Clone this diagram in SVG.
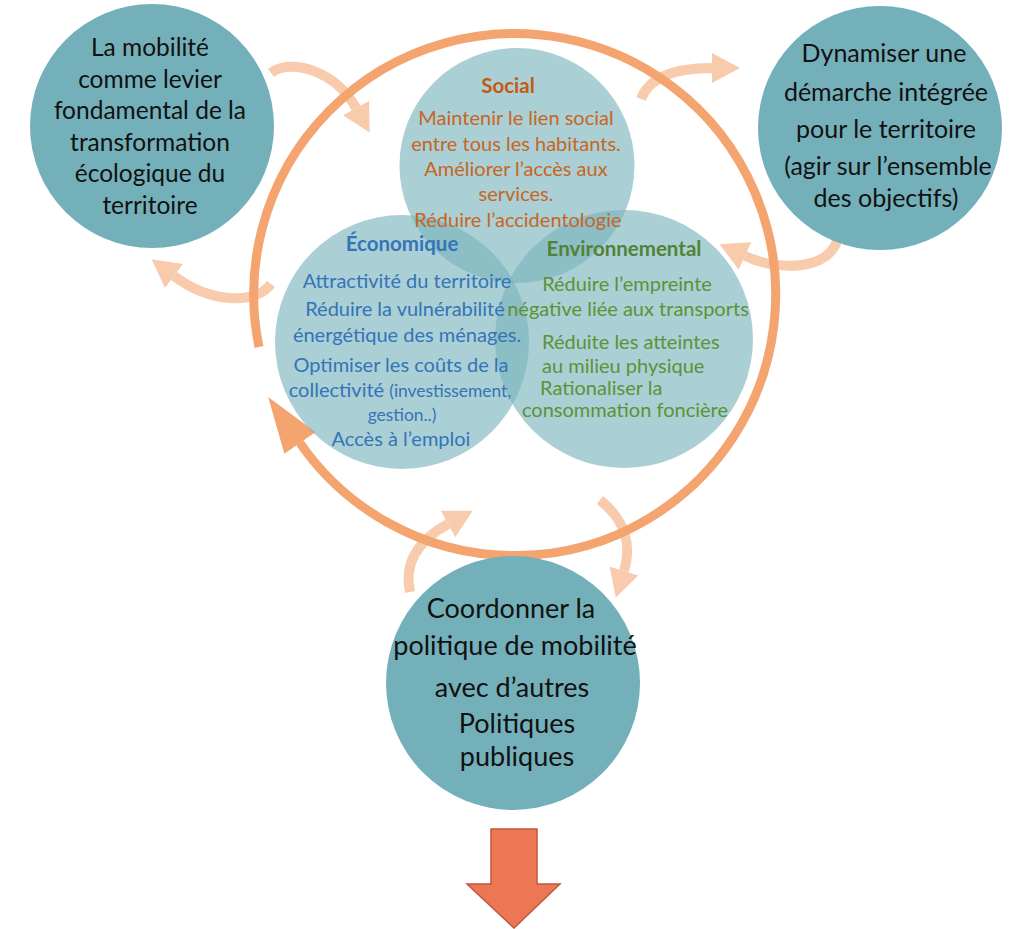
<svg xmlns="http://www.w3.org/2000/svg" width="1010" height="929" viewBox="0 0 1010 929">
<defs>
<marker id="peachHead" markerUnits="userSpaceOnUse" markerWidth="28" markerHeight="30" viewBox="0 0 28 30" refX="0" refY="15" orient="auto"><path d="M0,0 L28,15 L0,30 Z" fill="#F8CBAD"/></marker>
<marker id="ringHead" markerUnits="userSpaceOnUse" markerWidth="56" markerHeight="38" viewBox="0 0 56 38" refX="0" refY="19" orient="auto"><path d="M0,0 L56,19 L0,38 Z" fill="#F4A46E"/></marker>
</defs>
<style>
.node{fill:#74B0BA}
.venn{fill:#7CB5BE;fill-opacity:0.65}
.peach{fill:none;stroke:#F8CBAD;stroke-width:10;marker-end:url(#peachHead)}
.ring{fill:none;stroke:#F4A46E;stroke-width:9;marker-end:url(#ringHead)}
.nt{font-family:Lato,"Liberation Sans",sans-serif;fill:#111;text-anchor:middle}
.n1{font-size:24.5px}
.n2{font-size:25px}
.n3{font-size:27px}
.vt{font-family:Lato,"Liberation Sans",sans-serif;font-size:20px;text-anchor:middle}
.hd{font-weight:bold;font-size:20.5px}
.soc{fill:#C8651E}
.soch{fill:#C55A11}
.eco{fill:#3474B8}
.env{fill:#5E9234}
.envh{fill:#548235}
.sm{font-size:17.4px}
.out{fill:#ED7755;stroke:#C0583C;stroke-width:1.5}
</style>

<g id="connectors">
<path class="peach" d="M271,73 C290,58 335,70 356,108"/>
<path class="peach" d="M641,99 C650,75 680,68 712,68"/>
<path class="peach" d="M838,238 C830,270 780,272 745,256"/>
<path class="peach" d="M271,284 C255,305 210,303 174,276"/>
<path class="peach" d="M410,592 C403,560 422,538 448,524"/>
<path class="peach" d="M600,500 C625,520 632,545 624,571"/>
<path class="ring" d="M259,347 A261,261 0 1 1 300,443"/>
</g>

<g id="venn-social">
<circle class="venn" cx="517" cy="165.5" r="117.5"/>
</g>
<g id="venn-economique">
<circle class="venn" cx="402" cy="342" r="127"/>
</g>
<g id="venn-environnemental">
<circle class="venn" cx="624" cy="339" r="129"/>
</g>

<g id="venn-social-text" class="vt">
<text class="hd soch" x="508" y="93">Social</text>
<text class="soc" x="516" y="125">Maintenir le lien social</text>
<text class="soc" x="516" y="151">entre tous les habitants.</text>
<text class="soc" x="516" y="176">Améliorer l’accès aux</text>
<text class="soc" x="516" y="201">services.</text>
<text class="soc" x="518" y="227">Réduire l’accidentologie</text>
</g>

<g id="venn-economique-text" class="vt">
<text class="hd eco" x="402" y="251">Économique</text>
<text class="eco" x="407" y="288">Attractivité du territoire</text>
<text class="eco" x="405" y="316">Réduire la vulnérabilité</text>
<text class="eco" x="407" y="342">énergétique des ménages.</text>
<text class="eco" x="401" y="372">Optimiser les coûts de la</text>
<text class="eco" x="400" y="397">collectivité <tspan class="sm">(investissement,</tspan></text>
<text class="eco sm" x="402" y="421">gestion..)</text>
<text class="eco" x="401" y="446">Accès à l’emploi</text>
</g>

<g id="venn-environnemental-text" class="vt">
<text class="hd envh" x="624" y="256">Environnemental</text>
<text class="env" x="627" y="291">Réduire l’empreinte</text>
<text class="env" x="628" y="316">négative liée aux transports</text>
<text class="env" x="542" y="349" text-anchor="start">Réduite les atteintes</text>
<text class="env" x="542" y="373" text-anchor="start">au milieu physique</text>
<text class="env" x="540" y="395" text-anchor="start">Rationaliser la</text>
<text class="env" x="625" y="417">consommation foncière</text>
</g>

<g id="node-mobilite">
<circle class="node" cx="152" cy="126" r="122"/>
<g class="nt n1">
<text x="150" y="56">La mobilité</text>
<text x="150" y="87.5">comme levier</text>
<text x="150" y="119">fondamental de la</text>
<text x="150" y="150.5">transformation</text>
<text x="150" y="182">écologique du</text>
<text x="150" y="213.5">territoire</text>
</g>
</g>

<g id="node-dynamiser">
<circle class="node" cx="880" cy="128" r="122"/>
<g class="nt n2">
<text x="884" y="62">Dynamiser une</text>
<text x="886" y="101">démarche intégrée</text>
<text x="886" y="138">pour le territoire</text>
<text x="888" y="175">(agir sur l’ensemble</text>
<text x="886" y="207">des objectifs)</text>
</g>
</g>

<g id="node-coordonner">
<circle class="node" cx="513" cy="683" r="127"/>
<g class="nt n3">
<text x="511" y="618">Coordonner la</text>
<text x="515" y="655">politique de mobilité</text>
<text x="512" y="697">avec d’autres</text>
<text x="517" y="733">Politiques</text>
<text x="517" y="766">publiques</text>
</g>
</g>

<g id="output-arrow">
<polygon class="out" points="491,829 537,829 537,884 560,884 514,928 467,884 491,884"/>
</g>
</svg>
